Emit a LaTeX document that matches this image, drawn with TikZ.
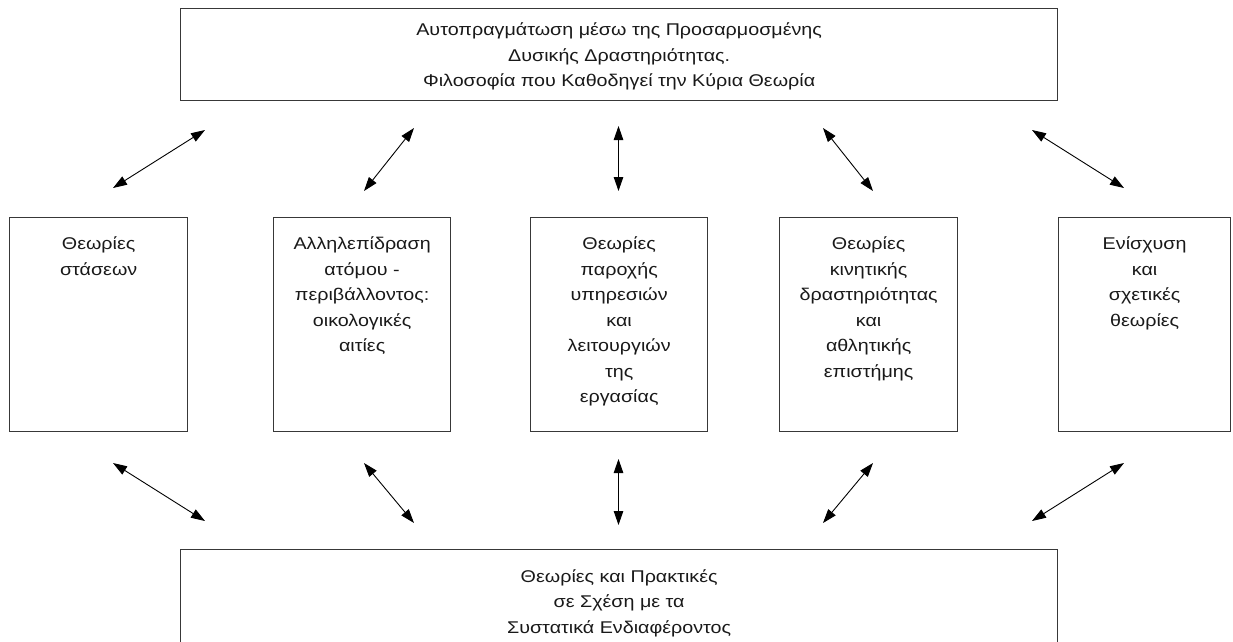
\documentclass[tikz,border=0pt]{standalone}
\usepackage{fontspec}
\setmainfont{Liberation Sans}[FakeStretch=1.16]
\usetikzlibrary{arrows.meta}

\begin{document}
\begin{tikzpicture}[x=1pt,y=-1pt,
  frame/.style={draw=black!78, line width=1.3pt, inner sep=0pt},
  txt/.style={align=center, inner sep=0pt, text=black!90,
              font=\fontsize{17}{25.5}\selectfont},
  link/.style={line width=0.9pt,
               {Triangle[length=14pt,width=9.5pt]}-{Triangle[length=14pt,width=9.5pt]}},
]
\useasboundingbox (0,0) rectangle (1233,641);

% top and bottom frames
\node[frame, minimum width=877pt, minimum height=92pt, anchor=north west]
  (top) at (180,8) {};
\node[txt, anchor=north, yshift=-14.5pt] (toptxt) at (top.north)
  {Αυτοπραγμάτωση μέσω της Προσαρμοσμένης\\
   Δυσικής Δραστηριότητας.\\
   Φιλοσοφία που Καθοδηγεί την Κύρια Θεωρία};

\node[frame, minimum width=877pt, minimum height=120pt, anchor=north west]
  (bot) at (180,549) {};
\node[txt, anchor=north, yshift=-20pt] (bottxt) at (bot.north)
  {Θεωρίες και Πρακτικές\\
   σε Σχέση με τα\\
   Συστατικά Ενδιαφέροντος};

% the five theory boxes
\node[frame, minimum width=178pt, minimum height=214pt, anchor=north west]
  (b1) at (9,217) {};
\node[frame, minimum width=177pt, minimum height=214pt, anchor=north west]
  (b2) at (273,217) {};
\node[frame, minimum width=177pt, minimum height=214pt, anchor=north west]
  (b3) at (530,217) {};
\node[frame, minimum width=178pt, minimum height=214pt, anchor=north west]
  (b4) at (779,217) {};
\node[frame, minimum width=172pt, minimum height=214pt, anchor=north west]
  (b5) at (1058,217) {};

\node[txt, anchor=north, yshift=-19.5pt] (t1) at (b1.north)
  {Θεωρίες\\ στάσεων};
\node[txt, anchor=north, yshift=-19.5pt] (t2) at (b2.north)
  {Αλληλεπίδραση\\ ατόμου -\\ περιβάλλοντος:\\ οικολογικές\\ αιτίες};
\node[txt, anchor=north, yshift=-19.5pt] (t3) at (b3.north)
  {Θεωρίες\\ παροχής\\ υπηρεσιών\\ και\\ λειτουργιών\\ της\\ εργασίας};
\node[txt, anchor=north, yshift=-19.5pt] (t4) at (b4.north)
  {Θεωρίες\\ κινητικής\\ δραστηριότητας\\ και\\ αθλητικής\\ επιστήμης};
\node[txt, anchor=north, yshift=-19.5pt] (t5) at (b5.north)
  {Ενίσχυση\\ και\\ σχετικές\\ θεωρίες};

% arrow end points, upper row
\coordinate (u1a) at (205,130);   \coordinate (u1b) at (113,188);
\coordinate (u2a) at (414,128);   \coordinate (u2b) at (364,191);
\coordinate (u3a) at (618.5,126); \coordinate (u3b) at (618.5,191);
\coordinate (u4a) at (823,128);   \coordinate (u4b) at (873,191);
\coordinate (u5a) at (1032,130);  \coordinate (u5b) at (1124,188);
% arrow end points, lower row
\coordinate (l1a) at (113,463);   \coordinate (l1b) at (205,521);
\coordinate (l2a) at (364,463);   \coordinate (l2b) at (414,523);
\coordinate (l3a) at (618.5,459); \coordinate (l3b) at (618.5,525);
\coordinate (l4a) at (873,463);   \coordinate (l4b) at (823,523);
\coordinate (l5a) at (1124,463);  \coordinate (l5b) at (1032,521);

\foreach \k in {1,...,5}{
  \draw[link] (u\k a) -- (u\k b);
  \draw[link] (l\k a) -- (l\k b);
}
\end{tikzpicture}
\end{document}
